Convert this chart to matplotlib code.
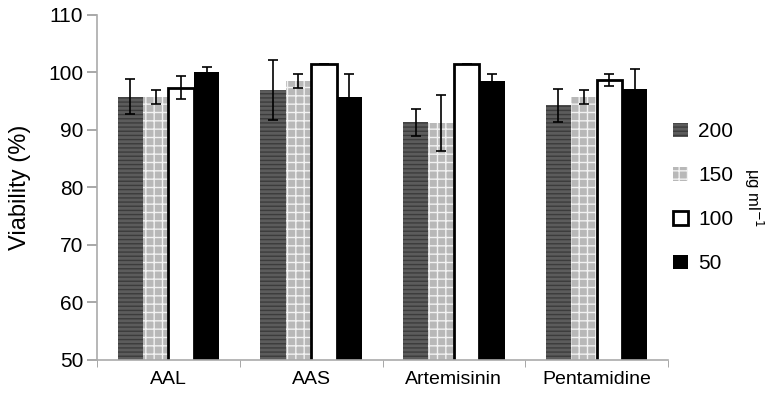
import numpy as np
import matplotlib
matplotlib.use('Agg')
import matplotlib.pyplot as plt

plt.rcParams['font.family'] = ['Liberation Sans', 'DejaVu Sans']

drugs = ['AAL', 'AAS', 'Artemisinin', 'Pentamidine']
concs = ['200', '150', '100', '50']
# viability (%) per concentration, one value per drug
v200 = [95.8, 97.0, 91.3, 94.3]
v150 = [95.8, 98.5, 91.2, 95.7]
v100 = [97.3, 101.4, 101.4, 98.7]
v50 = [100.0, 95.8, 98.6, 97.1]
e200 = [3.0, 5.2, 2.4, 2.9]
e150 = [1.2, 1.2, 4.8, 1.2]
e100 = [2.0, 0.0, 0.0, 1.0]
e50 = [1.0, 3.9, 1.1, 3.5]

fig = plt.figure(figsize=(7.65, 4.04), dpi=100)
ax = fig.add_axes([0.127, 0.109, 0.746, 0.854])

x = np.arange(len(drugs))
w = 0.178
styles = [
    dict(color='#5c5c5c', edgecolor='#3c3c3c', hatch='----', linewidth=0),
    dict(color='#b8b8b8', edgecolor='#f2f2f2', hatch='++', linewidth=0),
    dict(color='white', edgecolor='black', linewidth=2),
    dict(color='black', edgecolor='black', linewidth=0),
]
vals = [v200, v150, v100, v50]
errs = [e200, e150, e100, e50]
for i in range(4):
    ax.bar(x + (i - 1.5) * w, vals[i], w, label=concs[i], zorder=2, **styles[i])
    ax.errorbar(x + (i - 1.5) * w, vals[i], yerr=errs[i], fmt='none',
                ecolor='black', elinewidth=1.2, capsize=3.5, capthick=1.2, zorder=3)

ax.set_ylim(50, 110)
ax.set_yticks(range(50, 111, 10))
ax.set_xlim(-0.5, 3.5)
ax.set_xticks(x)
ax.set_xticklabels(drugs, fontsize=14)
ax.set_xticks(np.arange(-0.5, 3.6, 1), minor=True)
ax.tick_params(axis='x', which='major', length=0, pad=8)
ax.tick_params(axis='x', which='minor', length=5, color='#999999')
ax.tick_params(axis='y', labelsize=15, length=7, color='#999999', width=1.2, pad=3)
for s in ['top', 'right']:
    ax.spines[s].set_visible(False)
for s in ['left', 'bottom']:
    ax.spines[s].set_color('#aaaaaa')
    ax.spines[s].set_linewidth(1.2)
ax.set_ylabel('Viability (%)', fontsize=17, labelpad=12)

leg = ax.legend(loc='center left', bbox_to_anchor=(0.995, 0.47), frameon=False,
                fontsize=15, handlelength=0.7, handleheight=0.7,
                labelspacing=1.2, handletextpad=0.5, borderaxespad=0.0)
fig.text(0.985, 0.51, 'μg ml$^{-1}$', rotation=-90, fontsize=12,
         ha='center', va='center')

fig.savefig('out.png', dpi=100)
